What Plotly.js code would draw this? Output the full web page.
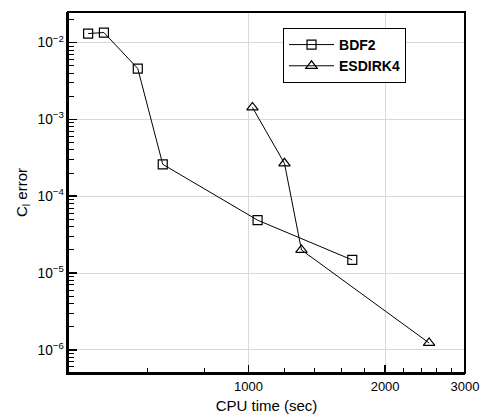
<!DOCTYPE html>
<html>
<head>
<meta charset="utf-8">
<script src="https://cdn.plot.ly/plotly-3.0.1.min.js"></script>
<style>html,body{margin:0;padding:0;background:#fff;}#chart{width:480px;height:420px;}</style>
</head>
<body>
<div id="chart"></div>
<script>
// Data
var bdf2Time = [443, 480, 570, 647, 1047, 1693];
var bdf2Err = [0.0131, 0.0135, 0.00459, 2.6e-4, 4.88e-5, 1.48e-5];
var esdirkTime = [1020, 1200, 1308, 2500];
var esdirkErr = [1.43e-3, 2.68e-4, 2.0e-5, 1.23e-6];
var seriesNames = ['BDF2', 'ESDIRK4'];
var xTickVals = [1000, 2000, 3000];
var xTickText = ['1000', '2000', '3000'];

var xMinor = [];
for (var v = 400; v < 3000; v += 200) { if (v !== 1000 && v !== 2000) xMinor.push(v); }
var yMajor = [];
for (var p = -6; p <= -2; p++) yMajor.push(Math.pow(10, p));
var yMinor = [];
for (var e = -7; e <= -2; e++) { for (var m = 2; m <= 9; m++) yMinor.push(m * Math.pow(10, e)); }

var font = 'Arial, "Liberation Sans", Helvetica, sans-serif';
var xRange = [Math.log10(400), Math.log10(3000)];
var yRange = [Math.log10(5e-7), Math.log10(2.5e-2)];

var traces = [
  {x: bdf2Time, y: bdf2Err, name: seriesNames[0], type: 'scatter', mode: 'lines+markers',
   line: {color: '#000', width: 1},
   marker: {symbol: 'square-open', size: 9, color: '#000', line: {width: 1.2, color: '#000'}}},
  {x: esdirkTime, y: esdirkErr, name: seriesNames[1], type: 'scatter', mode: 'lines+markers',
   line: {color: '#000', width: 1},
   marker: {symbol: 'triangle-up-open', size: 10, color: '#000', line: {width: 1.2, color: '#000'}}},
  {x: [], y: [], xaxis: 'x2', yaxis: 'y2', type: 'scatter', mode: 'markers', showlegend: false, hoverinfo: 'skip'},
  {x: [], y: [], xaxis: 'x3', yaxis: 'y3', type: 'scatter', mode: 'markers', showlegend: false, hoverinfo: 'skip'}
];

function tickAxis(range, vals, side, len, overlay) {
  return {type: 'log', range: range, overlaying: overlay, side: side, anchor: 'free', position: 0,
    tickmode: 'array', tickvals: vals, ticks: 'outside', ticklen: len, tickwidth: len > 6 ? 1.5 : 1,
    tickcolor: '#000', showticklabels: false, showgrid: false, zeroline: false, showline: false};
}

var layout = {
  width: 480, height: 420,
  margin: {l: 68, r: 15, t: 12, b: 47},
  font: {family: font, color: '#000'},
  showlegend: true,
  legend: {x: 0.5416, y: 0.9557, xanchor: 'left', yanchor: 'top',
    bgcolor: '#fff', bordercolor: '#000', borderwidth: 1, itemwidth: 45,
    font: {family: font, size: 14, color: '#000', weight: 'bold'}},
  xaxis: {
    type: 'log', range: xRange,
    tickmode: 'array', tickvals: xTickVals, ticktext: xTickText, ticks: '',
    tickfont: {size: 13, family: font},
    showline: true, linewidth: 2, linecolor: '#000',
    showgrid: true, gridcolor: '#d9d9d9', gridwidth: 1, zeroline: false,
    title: {text: 'CPU time (sec)', font: {size: 15, family: font}, standoff: 8}
  },
  yaxis: {
    type: 'log', range: yRange,
    tickmode: 'linear', tick0: 0, dtick: 1, exponentformat: 'power', ticks: '',
    tickfont: {size: 11, family: font},
    showline: true, linewidth: 2, linecolor: '#000',
    showgrid: true, gridcolor: '#d9d9d9', gridwidth: 1, zeroline: false,
    title: {text: 'C<sub>l</sub> error', font: {size: 15, family: font}, standoff: 6}
  },
  xaxis2: tickAxis(xRange, xTickVals, 'top', 8, 'x'),
  yaxis2: tickAxis(yRange, yMajor, 'right', 8, 'y'),
  xaxis3: tickAxis(xRange, xMinor, 'top', 5, 'x'),
  yaxis3: tickAxis(yRange, yMinor, 'right', 5, 'y'),
  shapes: [{type: 'rect', xref: 'x domain', yref: 'y domain', x0: 0, x1: 1, y0: 0, y1: 1,
    line: {color: '#000', width: 2}, fillcolor: 'rgba(0,0,0,0)', layer: 'above'}]
};

Plotly.newPlot('chart', traces, layout, {displayModeBar: false, staticPlot: true});
</script>
</body>
</html>
